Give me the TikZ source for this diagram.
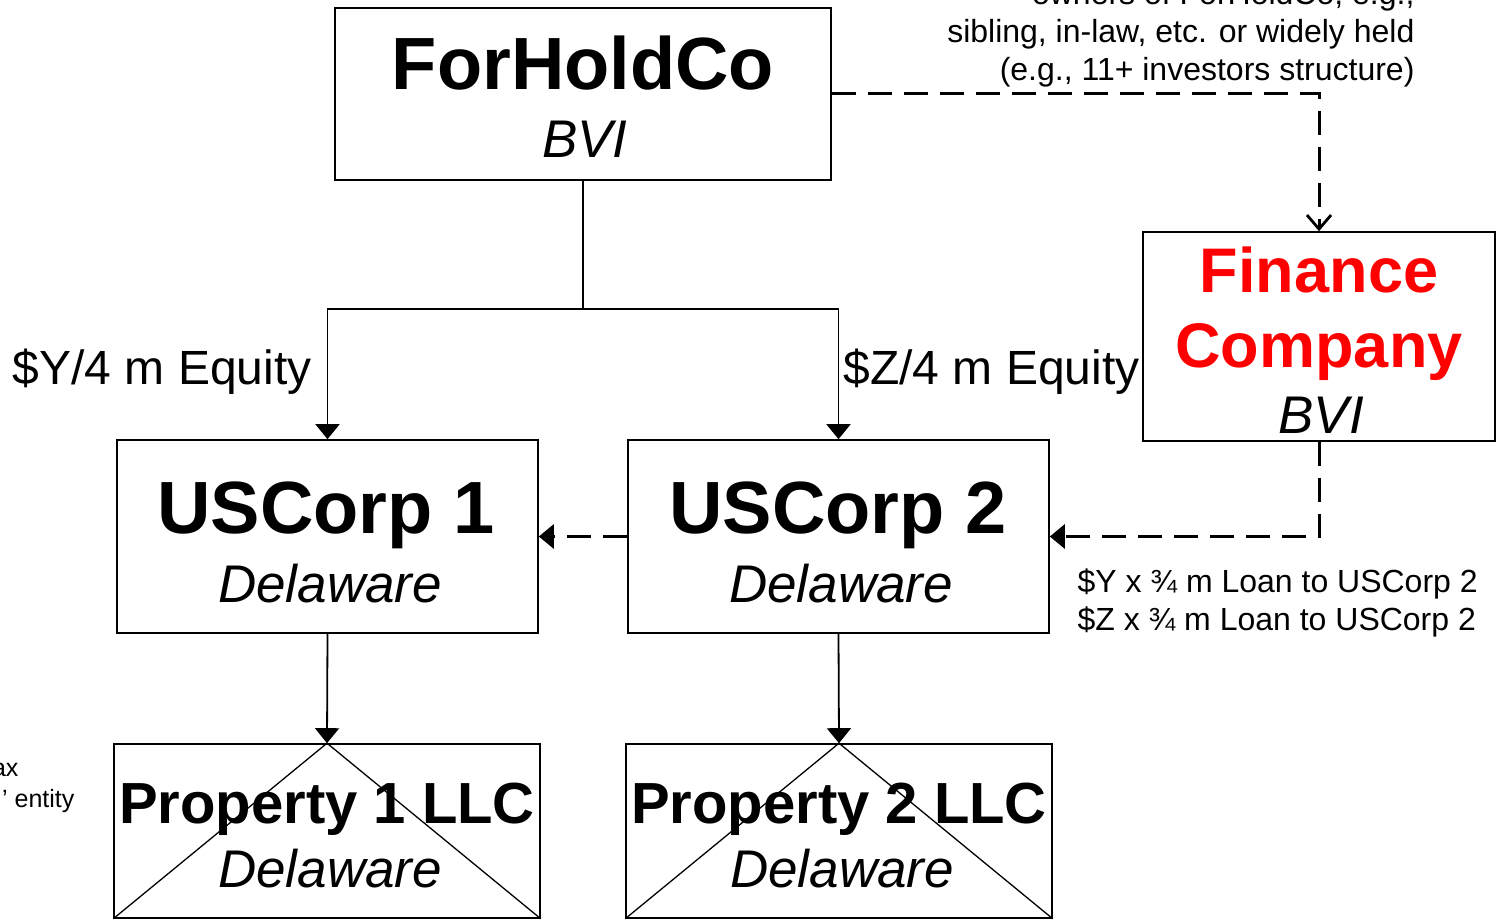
\documentclass[tikz,border=0pt]{standalone}
\usepackage{fontspec}
\setmainfont{Liberation Sans}
\usepackage{xcolor}
\usepackage{tikz}
\usetikzlibrary{arrows.meta, positioning, calc}

\begin{document}
\begin{tikzpicture}[x=1pt, y=-1pt,
    entity/.style={draw, line width=1.6pt, inner sep=0pt},
    bigname/.style={anchor=base, font=\fontsize{74}{80}\selectfont\bfseries},
    llcname/.style={anchor=base, font=\fontsize{58}{64}\selectfont\bfseries},
    place/.style={anchor=base, font=\fontsize{53}{60}\selectfont\itshape},
    amount/.style={font=\fontsize{48}{54}\selectfont},
    note/.style={font=\fontsize{32}{38}\selectfont},
    owns/.style={line width=1.8pt, -{Triangle[width=24pt,length=15pt]}},
    lends/.style={line width=3pt, dash pattern=on 24pt off 12pt}]
    \clip (0,0) rectangle (1499,920);
    \useasboundingbox (0,0) rectangle (1499,920);

    % boxes
    \node[entity, minimum width=496, minimum height=172] (fhc) at (583,94) {};
    \node[entity, minimum width=352, minimum height=209] (fin) at (1319,336.5) {};
    \node[entity, minimum width=421, minimum height=193] (usc1) at (327.5,536.5) {};
    \node[entity, minimum width=421, minimum height=193] (usc2) at (838.5,536.5) {};
    \node[entity, minimum width=426, minimum height=174] (prop1) at (327,831) {};
    \node[entity, minimum width=426, minimum height=174] (prop2) at (839,831) {};

    % disregarded entities crossed out
    \draw[line width=1.3pt] (prop1.south west) -- (prop1.north) -- (prop1.south east);
    \draw[line width=1.3pt] (prop2.south west) -- (prop2.north) -- (prop2.south east);

    % names
    \node[bigname] (fhcname) at (583,90) {ForHoldCo};
    \node[place] (fhcplace) at (585,158) {BVI};
    \node[anchor=base, font=\fontsize{63}{70}\selectfont\bfseries, text=red] (finname1) at (1319,292) {Finance};
    \node[anchor=base, font=\fontsize{63}{70}\selectfont\bfseries, text=red] (finname2) at (1319,367) {Company};
    \node[place] (finplace) at (1321,433) {BVI};
    \node[bigname] (usc1name) at (326,533) {USCorp 1};
    \node[place] (usc1place) at (330,602) {Delaware};
    \node[bigname] (usc2name) at (838,533) {USCorp 2};
    \node[place] (usc2place) at (841,602) {Delaware};
    \node[llcname] (prop1name) at (327,823) {Property 1 LLC};
    \node[place] (prop1place) at (330,887) {Delaware};
    \node[llcname] (prop2name) at (839,823) {Property 2 LLC};
    \node[place] (prop2place) at (842,887) {Delaware};

    % equity
    \coordinate (split) at (583,309);
    \draw[line width=1.8pt] (fhc.south) -- (split);
    \draw[owns] (split) -| (usc1.north);
    \draw[owns] (split) -| (usc2.north);
    \node[amount, anchor=base east] (eq1) at (315,384) {\$Y/4 m Equity};
    \node[amount, anchor=base west] (eq2) at (840,384) {\$Z/4 m Equity};
    \draw[owns] (usc1.south) -- (prop1.north);
    \draw[owns] (usc2.south) -- (prop2.north);

    % loans
    \draw[lends, -{Straight Barb[width=24pt,length=14pt,line width=2.8pt]}] (fhc.east) -| (fin.north);
    \draw[lends, -{Triangle[width=24pt,length=15pt]}] (fin.south) |- (usc2.east);
    \draw[lends, -{Triangle[width=24pt,length=15pt]}] (usc2.west) -- (usc1.east);
    \node[note, anchor=base west] (loan1) at (1074,592) {\$Y x ¾ m Loan to USCorp 2};
    \node[note, anchor=base west] (loan2) at (1074,630) {\$Z x ¾ m Loan to USCorp 2};

    % notes cut at the edges
    \node[note, anchor=base east] (own1) at (1418,5) {owners of ForHoldCo, e.g.,};
    \node[note, anchor=base east] (own2) at (1418,43) {sibling, in-law, etc. or widely held};
    \node[note, anchor=base east] (own3) at (1418,81) {(e.g., 11+ investors structure)};
    \node[anchor=base east, font=\fontsize{25}{30}\selectfont] (tax1) at (22,776) {ax};
    \node[anchor=base east, font=\fontsize{25}{30}\selectfont] (tax2) at (78,807) {’ entity};
\end{tikzpicture}
\end{document}
